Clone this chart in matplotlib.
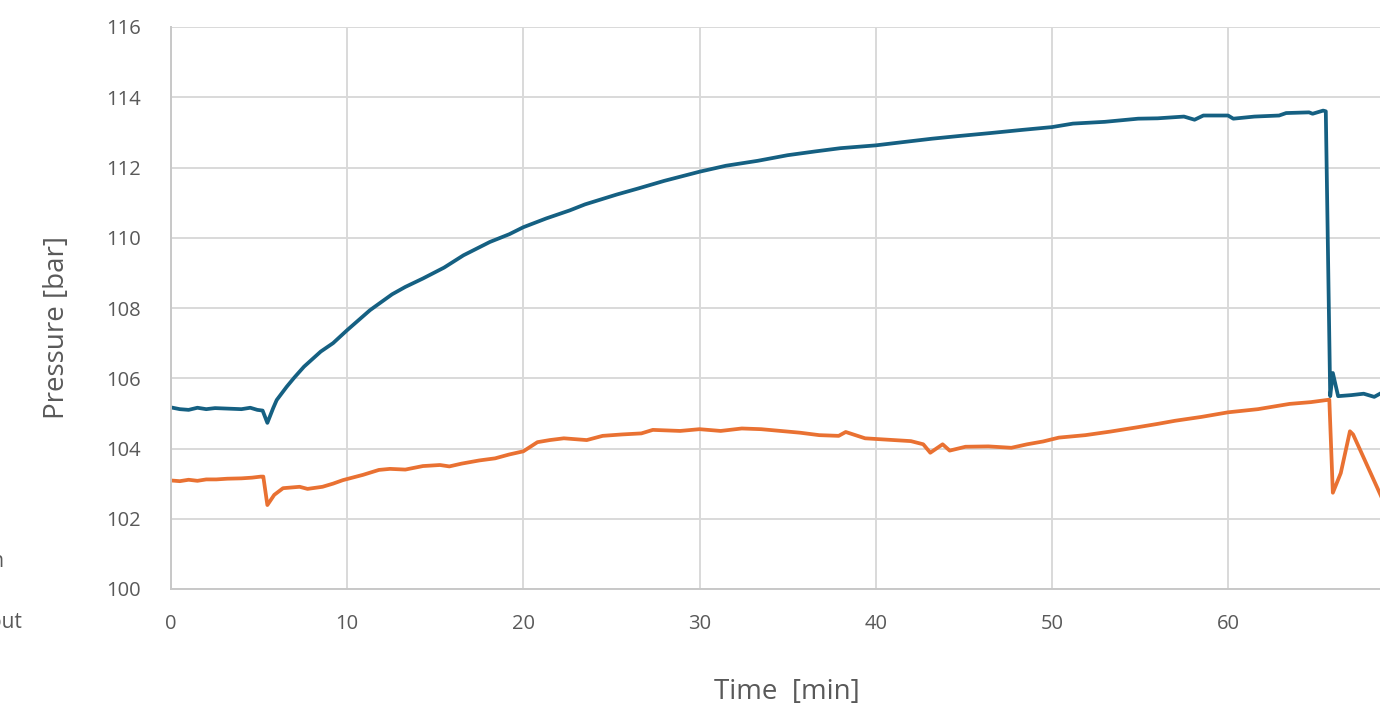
import matplotlib.pyplot as plt

# Data
t_in = [0, 0.5, 1.0, 1.5, 2.0, 2.5, 3.0, 3.5, 4.0, 4.5, 4.9, 5.2, 5.47, 5.8,
        6.0, 6.57, 7.0, 7.55, 8.5, 9.2, 10, 11.3, 12.55, 13.3, 14.3, 15.5,
        16.6, 18.1, 19.2, 20, 21.3, 22.64, 23.5, 25.3, 26.5, 28, 30, 31.5,
        33.3, 35, 36.6, 38, 40, 41.5, 43.2, 44.8, 46.5, 48.3, 50, 51.2, 53,
        54.9, 56, 57.5, 58.1, 58.6, 60, 60.3, 61.5, 62.9, 63.3, 64.6, 64.8,
        65.4, 65.55, 65.8, 65.95, 66.25, 67.0, 67.7, 68.3, 68.7]
p_in = [105.17, 105.12, 105.1, 105.16, 105.12, 105.15, 105.14, 105.13,
        105.12, 105.16, 105.1, 105.08, 104.73, 105.15, 105.38, 105.76,
        106.02, 106.33, 106.76, 107.0, 107.37, 107.94, 108.39, 108.6,
        108.84, 109.15, 109.5, 109.88, 110.1, 110.3, 110.55, 110.78, 110.95,
        111.23, 111.4, 111.62, 111.88, 112.05, 112.19, 112.35, 112.46,
        112.55, 112.63, 112.72, 112.82, 112.9, 112.98, 113.07, 113.15,
        113.25, 113.3, 113.39, 113.4, 113.45, 113.36, 113.48, 113.48,
        113.39, 113.45, 113.48, 113.55, 113.57, 113.53, 113.62, 113.6,
        105.49, 106.15, 105.49, 105.52, 105.56, 105.47, 105.58]

t_out = [0, 0.5, 1.0, 1.5, 2.0, 2.57, 3.2, 4.0, 4.6, 5.1, 5.24, 5.47, 5.86,
         6.36, 7.3, 7.75, 8.6, 9.2, 9.76, 10.9, 11.8, 12.43, 13.3, 14.3,
         15.27, 15.8, 16.5, 17.5, 18.4, 19.2, 20, 20.8, 21.5, 22.3, 23.6,
         24.5, 25.6, 26.7, 27.35, 28.9, 30, 31.2, 32.4, 33.5, 34.6, 35.7,
         36.8, 37.9, 38.3, 39.4, 40.7, 42.0, 42.7, 43.1, 43.8, 44.2, 45.1,
         46.4, 47.7, 48.6, 49.5, 50.4, 51.9, 53.3, 54.8, 56.0, 57.0, 58.5,
         60.0, 61.7, 63.5, 64.7, 65.75, 65.95, 66.4, 66.92, 67.1, 67.49,
         68.7]
p_out = [103.09, 103.07, 103.11, 103.08, 103.12, 103.12, 103.14, 103.15,
         103.17, 103.2, 103.2, 102.39, 102.68, 102.87, 102.91, 102.85,
         102.91, 103.0, 103.1, 103.25, 103.39, 103.42, 103.4, 103.5, 103.53,
         103.49, 103.57, 103.66, 103.72, 103.83, 103.92, 104.18, 104.24,
         104.29, 104.24, 104.36, 104.4, 104.43, 104.53, 104.5, 104.55,
         104.5, 104.57, 104.55, 104.5, 104.45, 104.38, 104.36, 104.47,
         104.29, 104.25, 104.21, 104.12, 103.88, 104.12, 103.94, 104.05,
         104.06, 104.02, 104.12, 104.2, 104.31, 104.38, 104.48, 104.6,
         104.7, 104.79, 104.9, 105.03, 105.12, 105.27, 105.32, 105.39,
         102.74, 103.3, 104.49, 104.4, 103.97, 102.63]

x_ticks = [0, 10, 20, 30, 40, 50, 60]
y_ticks = [100, 102, 104, 106, 108, 110, 112, 114, 116]

blue = '#156082'
orange = '#E97132'
grey_text = '#595959'
grid_col = '#d9d9d9'

plt.rcParams['font.family'] = ['Open Sans', 'DejaVu Sans']

fig = plt.figure(figsize=(13.8, 7.1), dpi=100)
ax = fig.add_axes([171 / 1380, 121 / 710, 1 - 171 / 1380, 562 / 710])

ax.plot(t_out, p_out, color=orange, lw=2.7, solid_joinstyle='round')
ax.plot(t_in, p_in, color=blue, lw=2.7, solid_joinstyle='round')

ax.set_xlim(0, (1380 - 171) / 17.617)
ax.set_ylim(100, 116)
ax.set_xticks(x_ticks)
ax.set_yticks(y_ticks)
ax.grid(True, color=grid_col, lw=1.4)
ax.set_axisbelow(True)
for side in ['top', 'right']:
    ax.spines[side].set_visible(False)
for side in ['left', 'bottom']:
    ax.spines[side].set_color('#c8c8c8')
    ax.spines[side].set_linewidth(1.4)
ax.tick_params(length=0, labelsize=14.5, labelcolor=grey_text)
ax.tick_params(axis='y', pad=22)
ax.tick_params(axis='x', pad=18)

fig.text(787 / 1380, 18 / 710, 'Time  [min]', ha='center', va='center',
         fontsize=20, color=grey_text)
fig.text(57 / 1380, 1 - 327 / 710, 'Pressure [bar]', ha='center',
         va='center', rotation=90, fontsize=20, color=grey_text)

# legend entries cut off at the left edge, as in the reference
fig.text(4.5 / 1380, 1 - 567 / 710, 'Pressure in', ha='right',
         va='baseline', fontsize=15, color=grey_text)
fig.text(22 / 1380, 1 - 628 / 710, 'Pressure out', ha='right',
         va='baseline', fontsize=15, color=grey_text)

fig.savefig('out.png', dpi=100)
